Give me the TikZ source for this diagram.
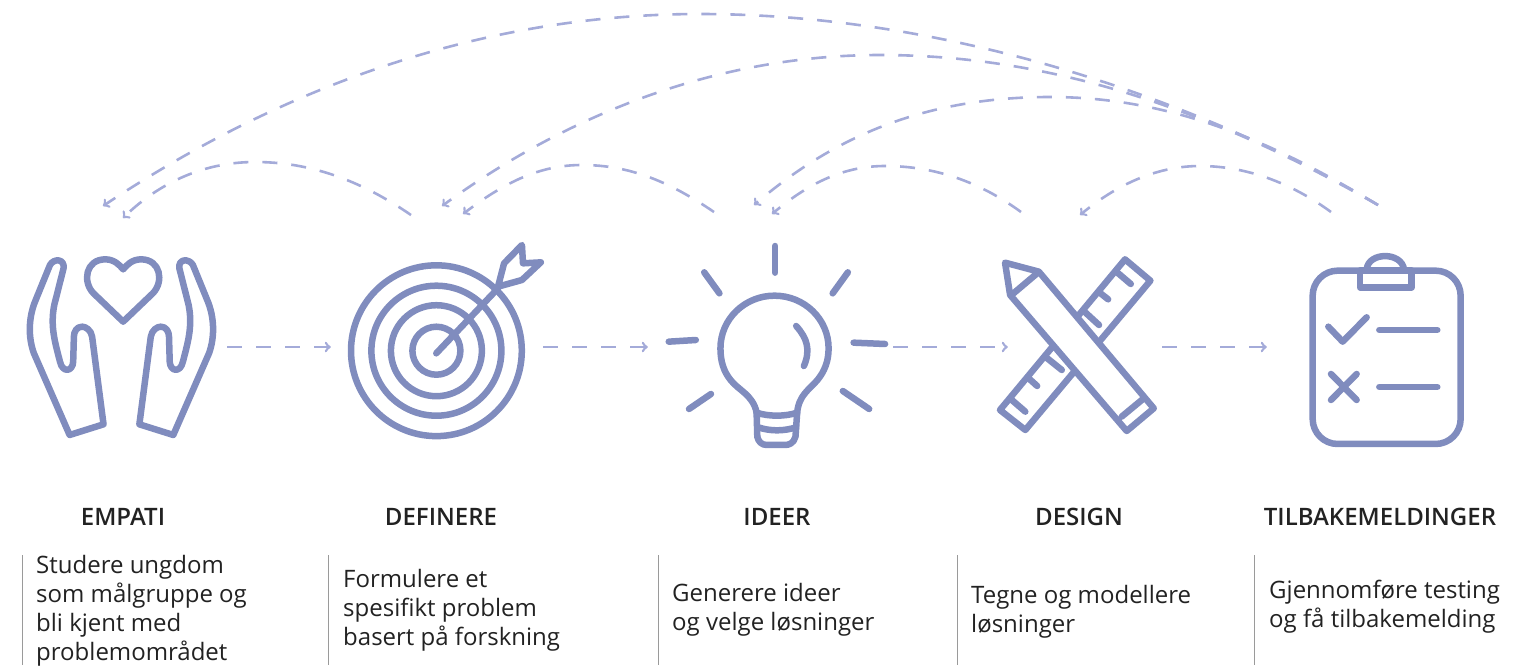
\documentclass[tikz,border=0pt]{standalone}
\usepackage{fontspec}
\setmainfont{Open Sans}
\newfontfamily\titlefont{Open Sans Semibold}
\usepackage{tikz}
\usetikzlibrary{positioning}
\definecolor{iconblue}{HTML}{808CBE}
\definecolor{dashblue}{HTML}{A4ABD9}
\definecolor{rulegrey}{HTML}{9A9A9A}
\definecolor{textblack}{HTML}{222222}
\newcommand{\handshape}{(195,615) -- (290,583) -- (258,320) .. controls (255,300) and (240,290) .. (230,290) .. controls (215,290) and (207,305) .. (207,320) -- (205,395) .. controls (204,425) and (175,430) .. (168,395) .. controls (155,340) and (140,290) .. (152,225) -- (178,115) .. controls (182,85) and (150,85) .. (140,105) -- (100,210) .. controls (80,260) and (78,320) .. (95,370) -- cycle}
\tikzset{
	icon/.style={draw=iconblue, line width=6.5pt, line cap=round, line join=round},
	iconbox/.style={inner sep=0pt, minimum height=200pt},
	flow/.style={draw=dashblue, line width=2.6pt, dash pattern=on 15pt off 14pt, ->},
	back/.style={draw=dashblue, line width=2.6pt, dash pattern=on 15pt off 14pt, ->},
	title/.style={font=\titlefont\fontsize{24}{28}\selectfont, text=textblack},
	body/.style={anchor=west, align=left, inner sep=0pt, text=textblack, font=\fontsize{24}{29}\selectfont},
	divider/.style={draw=rulegrey, line width=1pt},
}
\begin{document}
\begin{tikzpicture}[x=1pt, y=-1pt]
	\useasboundingbox (0,0) rectangle (1536,665);
	% boxes round the icons
	\node[iconbox, minimum width=210pt] (empati) at (122,347) {};
	\node[iconbox, minimum width=212pt] (definere) at (437,347) {};
	\node[iconbox, minimum width=245pt] (ideer) at (770.5,347) {};
	\node[iconbox, minimum width=154pt] (design) at (1085,347) {};
	\node[iconbox, minimum width=238pt] (tilbake) at (1386,347) {};
	\draw[flow] (empati.east) -- (definere.west);
	\draw[flow] (definere.east) -- (ideer.west);
	\draw[flow] (ideer.east) -- (design.west);
	\draw[flow] (design.east) -- (tilbake.west);
%
	\coordinate (empatiouter) at (103,206);
	\coordinate (empatiinner) at (123,218);
	\coordinate (definereouter) at (442,206);
	\coordinate (defineresmall) at (411,215);
	\coordinate (definereinner) at (463,214);
	\coordinate (ideerouter) at (754,205);
	\coordinate (ideersmall) at (714,212);
	\coordinate (ideerinner) at (772,214);
	\coordinate (designsmall) at (1021,212);
	\coordinate (designinner) at (1080,215);
	\coordinate (tilbakeouter) at (1378,205);
	\coordinate (tilbakesmall) at (1331,212);
	\draw[back] (tilbakeouter) .. controls (1200,100) and (950,14) .. (700,14) .. controls (470,14) and (270,95) .. (empatiouter);
	\draw[back] (tilbakeouter) .. controls (1220,115) and (1060,55) .. (880,55) .. controls (710,55) and (560,120) .. (definereouter);
	\draw[back] (tilbakeouter) .. controls (1270,140) and (1170,97) .. (1050,97) .. controls (920,97) and (830,140) .. (ideerouter);
	\draw[back] (defineresmall) .. controls (360,180) and (310,162) .. (255,162) .. controls (205,162) and (160,182) .. (empatiinner);
	\draw[back] (ideersmall) .. controls (670,182) and (630,165) .. (582,165) .. controls (540,165) and (505,182) .. (definereinner);
	\draw[back] (designsmall) .. controls (980,182) and (935,166) .. (885,166) .. controls (845,166) and (810,182) .. (ideerinner);
	\draw[back] (tilbakesmall) .. controls (1290,182) and (1245,166) .. (1200,166) .. controls (1160,166) and (1120,182) .. (designinner);
%
	% hands and heart
	\begin{scope}[shift={(0,230)}, xscale=0.357, yscale=0.3333]
		\draw[icon] \handshape;
		\draw[icon] (345,275) -- (262,190) .. controls (230,155) and (240,88) .. (295,88) .. controls (320,88) and (335,105) .. (345,118) .. controls (355,105) and (370,88) .. (395,88) .. controls (450,88) and (460,155) .. (428,190) -- cycle;
	\end{scope}
	\begin{scope}[shift={(242.9,230)}, xscale=-0.357, yscale=0.3333]
		\draw[icon] \handshape;
	\end{scope}
	% target
	\draw[icon] (436.4,350.7) circle [radius=85.4pt];
	\draw[icon] (436.4,350.7) circle [radius=65pt];
	\draw[icon] (436.4,350.7) circle [radius=45.5pt];
	\draw[icon] (436.4,350.7) circle [radius=24pt];
	\begin{scope}[shift={(0,230)}, xscale=0.357, yscale=0.3333]
		\draw[icon] (1222,370) -- (1395,175);
		\draw[icon] (1395,170) -- (1412,100) -- (1462,45) -- (1465,100) -- (1515,97) -- (1462,150) -- cycle;
	\end{scope}
	% bulb
	\begin{scope}[shift={(640,230)}, xscale=0.338, yscale=0.3333]
		\draw[icon] (345,548) .. controls (335,495) and (290,480) .. (268,450) .. controls (248,425) and (238,395) .. (238,355) .. controls (238,267) and (310,197) .. (398,197) .. controls (486,197) and (558,267) .. (558,355) .. controls (558,395) and (545,425) .. (525,450) .. controls (500,480) and (470,495) .. (465,548);
		\draw[icon] (345,548) .. controls (380,560) and (430,560) .. (465,548) -- (460,620) .. controls (455,640) and (440,645) .. (430,645) -- (375,645) .. controls (360,645) and (350,635) .. (347,620) -- cycle;
		\draw[icon] (350,592) .. controls (385,604) and (425,604) .. (462,592);
		\draw[icon] (462,288) .. controls (495,325) and (505,360) .. (485,408);
		\draw[icon] (400,48) -- (400,128);
		\draw[icon] (190,127) -- (235,190);
		\draw[icon] (615,127) -- (570,190);
		\draw[icon] (85,335) -- (165,330);
		\draw[icon] (632,338) -- (725,342);
		\draw[icon] (145,537) -- (210,492);
		\draw[icon] (600,483) -- (678,537);
	% ruler and pencil
		\draw[icon] (1435,88) -- (1510,152) -- (1140,600) -- (1065,540) -- cycle;
		\draw[icon] (1415,130) -- (1452,162);
		\draw[icon] (1360,188) -- (1385,208);
		\draw[icon] (1315,245) -- (1358,285);
		\draw[icon] (1205,385) -- (1248,420);
		\draw[icon] (1150,445) -- (1175,468);
		\draw[icon] (1100,510) -- (1140,545);
		\draw[icon, fill=white] (1080,98) -- (1180,125) -- (1520,535) -- (1440,603) -- (1095,195) -- cycle;
		\draw[icon] (1105,190) -- (1175,130);
		\draw[icon] (1425,560) -- (1487,508);
	\end{scope}
	% clipboard
	\begin{scope}[shift={(1150,180)}, scale=0.3333]
		\draw[icon, rounded corners=25pt] (488,272) rectangle (932,792);
		\draw[icon] (650,268) .. controls (655,215) and (755,215) .. (762,268);
		\draw[icon, fill=white] (630,272) rectangle (785,322);
		\draw[icon] (535,440) -- (578,485) -- (650,412);
		\draw[icon] (688,450) -- (862,450);
		\draw[icon] (543,582) -- (620,660);
		\draw[icon] (620,582) -- (543,660);
		\draw[icon] (688,621) -- (862,621);
	\end{scope}
%
	\node[title] (empatititle) at (123,517) {EMPATI};
	\node[title] (defineretitle) at (441,517) {DEFINERE};
	\node[title] (ideertitle) at (777,517) {IDEER};
	\node[title] (designtitle) at (1079,517) {DESIGN};
	\node[title] (tilbaketitle) at (1380,517) {TILBAKEMELDINGER};
%
	\draw[divider] (22,555) -- (22,665);
	\draw[divider] (328,555) -- (328,665);
	\draw[divider] (658.5,555) -- (658.5,665);
	\draw[divider] (957,555) -- (957,665);
	\draw[divider] (1254.5,555) -- (1254.5,665);
	\node[body] (empatitext) at (36,610.5) {Studere ungdom\\som målgruppe og\\bli kjent med\\problemområdet};
	\node[body] (defineretext) at (343,610) {Formulere et\\spesifikt problem\\basert på forskning};
	\node[body] (ideertext) at (672,609.5) {Generere ideer\\og velge løsninger};
	\node[body] (designtext) at (971,611.5) {Tegne og modellere\\løsninger};
	\node[body] (tilbaketext) at (1269,606.5) {Gjennomføre testing\\og få tilbakemelding};
\end{tikzpicture}
\end{document}
